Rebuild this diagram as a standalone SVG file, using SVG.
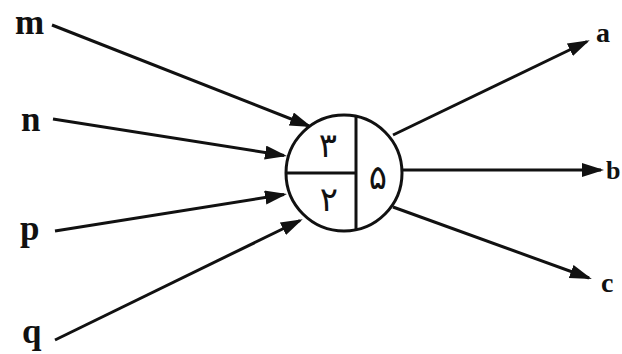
<svg xmlns="http://www.w3.org/2000/svg" width="622" height="354" viewBox="0 0 622 354">
<style>
.lbl{font-family:"Liberation Serif","Times New Roman",serif;font-weight:bold;fill:#111;}
.big{font-size:35px;}
.sm{font-size:28px;}
.dig{font-family:"DejaVu Sans","Noto Sans",sans-serif;font-size:34px;fill:#111;text-anchor:middle;}
.edge{stroke:#111;stroke-width:3;fill:none;marker-end:url(#ah);}
.node{fill:#fff;stroke:#111;stroke-width:3;}
.div{stroke:#111;stroke-width:3;fill:none;}
</style>
<defs>
<marker id="ah" markerUnits="userSpaceOnUse" markerWidth="24" markerHeight="16" refX="19" refY="7" orient="auto">
<path d="M0,0 L22,7 L0,14 z" fill="#111"/>
</marker>
</defs>
<rect width="622" height="354" fill="#fff"/>
<g id="connectors">
<line class="edge" x1="52" y1="25" x2="309" y2="126"/>
<line class="edge" x1="53" y1="119" x2="284" y2="155.5"/>
<line class="edge" x1="55" y1="231" x2="284" y2="194.5"/>
<line class="edge" x1="55" y1="340" x2="300" y2="220.5"/>
<line class="edge" x1="393" y1="135" x2="587" y2="41.5"/>
<line class="edge" x1="401" y1="170" x2="601" y2="170"/>
<line class="edge" x1="393" y1="207" x2="589" y2="278"/>
</g>
<g id="center">
<circle class="node" cx="344" cy="173" r="58"/>
<line class="div" x1="356" y1="116" x2="356" y2="230"/>
<line class="div" x1="286" y1="173" x2="356" y2="173"/>
<text class="dig" x="328" y="157">۳</text>
<text class="dig" x="329" y="211">۲</text>
<text class="dig" x="378" y="189">۵</text>
</g>
<g id="m"><text class="lbl big" x="15" y="34">m</text></g>
<g id="n"><text class="lbl big" x="21" y="131">n</text></g>
<g id="p"><text class="lbl big" x="20" y="240">p</text></g>
<g id="q"><text class="lbl big" x="22" y="343">q</text></g>
<g id="a"><text class="lbl sm" x="596" y="42">a</text></g>
<g id="b"><text class="lbl" style="font-size:26px" x="606" y="179">b</text></g>
<g id="c"><text class="lbl sm" x="601" y="292">c</text></g>
</svg>
